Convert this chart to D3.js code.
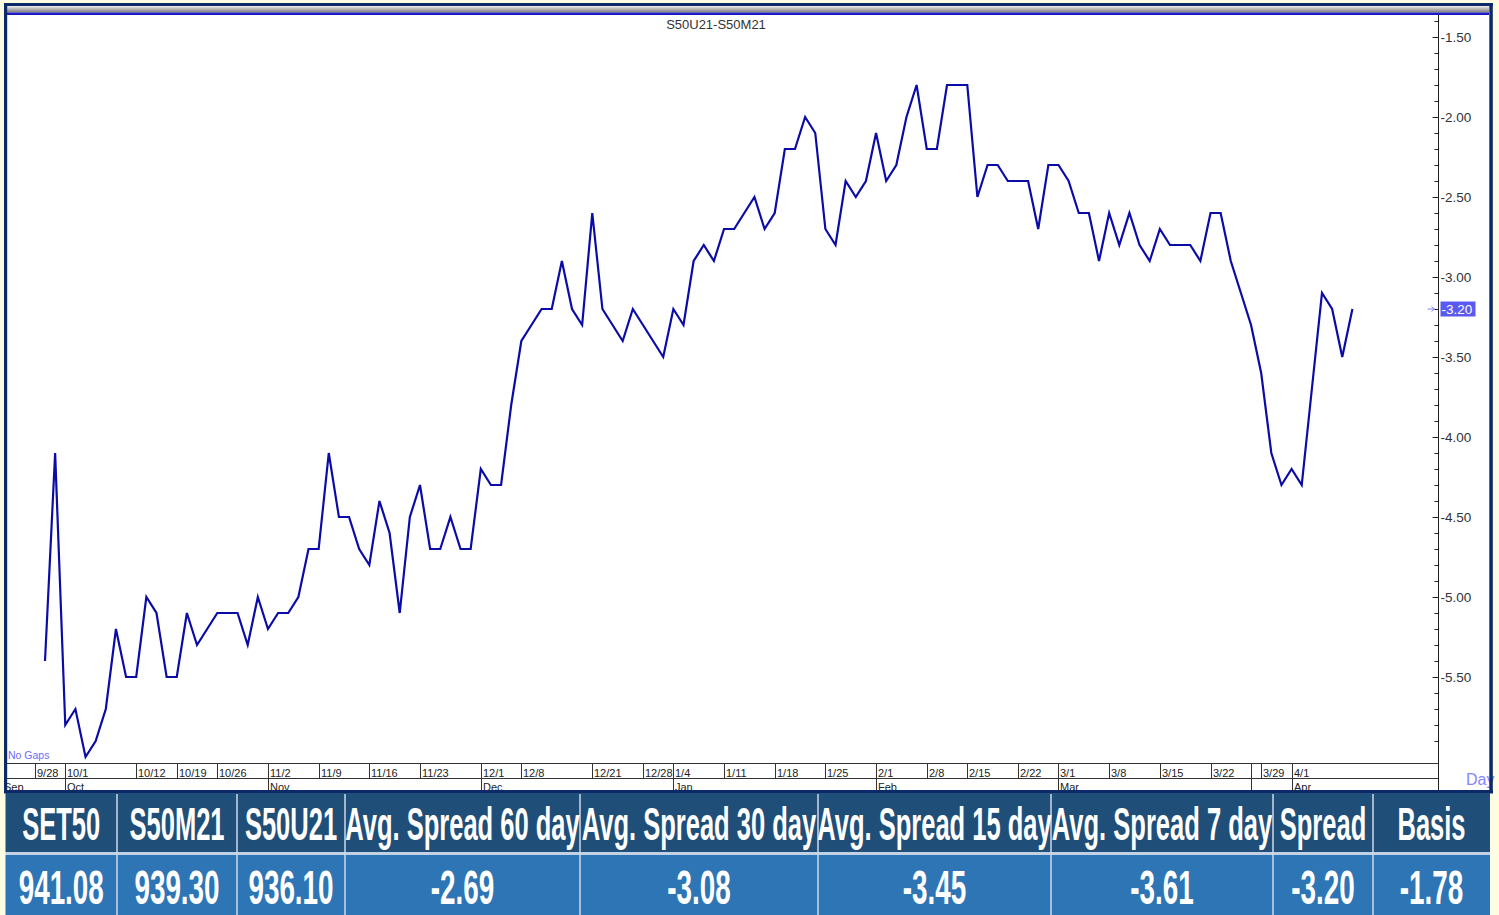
<!DOCTYPE html>
<html><head><meta charset="utf-8">
<script src="https://cdn.jsdelivr.net/npm/d3@7"></script>
<style>html,body{margin:0;padding:0;background:#fffce4;} svg{display:block;}</style>
</head><body>
<svg id="c" width="1499" height="915"></svg>
<script>
// ---- data ----
const title = "S50U21-S50M21";
const spread = [
 -5.40,-4.10,-5.80,-5.70,-6.00,-5.90,-5.70,-5.20,-5.50,-5.50,
 -5.00,-5.10,-5.50,-5.50,-5.10,-5.30,-5.20,-5.10,-5.10,-5.10,
 -5.30,-5.00,-5.20,-5.10,-5.10,-5.00,-4.70,-4.70,-4.10,-4.50,
 -4.50,-4.70,-4.80,-4.40,-4.60,-5.10,-4.50,-4.30,-4.70,-4.70,
 -4.50,-4.70,-4.70,-4.20,-4.30,-4.30,-3.80,-3.40,-3.30,-3.20,
 -3.20,-2.90,-3.20,-3.30,-2.60,-3.20,-3.30,-3.40,-3.20,-3.30,
 -3.40,-3.50,-3.20,-3.30,-2.90,-2.80,-2.90,-2.70,-2.70,-2.60,
 -2.50,-2.70,-2.60,-2.20,-2.20,-2.00,-2.10,-2.70,-2.80,-2.40,
 -2.50,-2.40,-2.10,-2.40,-2.30,-2.00,-1.80,-2.20,-2.20,-1.80,
 -1.80,-1.80,-2.50,-2.30,-2.30,-2.40,-2.40,-2.40,-2.70,-2.30,
 -2.30,-2.40,-2.60,-2.60,-2.90,-2.60,-2.80,-2.60,-2.80,-2.90,
 -2.70,-2.80,-2.80,-2.80,-2.90,-2.60,-2.60,-2.90,-3.10,-3.30,
 -3.60,-4.10,-4.30,-4.20,-4.30,-3.70,-3.10,-3.20,-3.50,-3.20
];
const dayTickLabels = ["9/28","10/1","10/12","10/19","10/26","11/2","11/9","11/16","11/23","12/1","12/8","12/21","12/28","1/4","1/11","1/18","1/25","2/1","2/8","2/15","2/22","3/1","3/8","3/15","3/22","3/29","4/1"];
const dayTickIndex  = [-1,2,9,13,17,22,27,32,37,43,47,54,59,62,67,72,77,82,87,91,96,100,105,110,115,120,123];
const monthLabels = ["Oct","Nov","Dec","Jan","Feb","Mar","","Apr"];
const monthIndex  = [2,22,43,62,82,100,119,123];
const firstMonthLabel = "Sep";
const yTickValues = [-1.5,-2.0,-2.5,-3.0,-3.5,-4.0,-4.5,-5.0,-5.5];
const lastValue = -3.20;
const tableHeaders = ["SET50","S50M21","S50U21","Avg. Spread 60 day","Avg. Spread 30 day","Avg. Spread 15 day","Avg. Spread 7 day","Spread","Basis"];
const tableValues  = ["941.08","939.30","936.10","-2.69","-3.08","-3.45","-3.61","-3.20","-1.78"];

// ---- layout ----
const svg = d3.select("#c");
const W = 1499, H = 915;
const navy = "#0d2a68";
const plotL = 7, plotR = 1438.5, plotT = 15, plotB = 763.5, frameB = 790;
const colEdges = [5.5,117,237,345,580,818,1051,1273,1373,1490];

const x = d3.scaleLinear().domain([0, spread.length - 1]).range([45, 1352.4]);
const y = d3.scaleLinear().domain([-1.5, -5.5]).range([37, 677]);

svg.append("rect").attr("width", W).attr("height", H).attr("fill", "#fffce4");
svg.append("rect").attr("x", 7).attr("y", 12).attr("width", 1482).attr("height", frameB - 12).attr("fill", "#fff");

const defs = svg.append("defs");
defs.append("clipPath").attr("id", "plotclip").append("rect")
  .attr("x", plotL).attr("y", plotT).attr("width", plotR - plotL).attr("height", plotB - plotT);
const g1 = defs.append("linearGradient").attr("id", "band").attr("x1", 0).attr("y1", 0).attr("x2", 0).attr("y2", 1);
g1.append("stop").attr("offset", "0").attr("stop-color", "#f0f0f0");
g1.append("stop").attr("offset", "0.45").attr("stop-color", "#b8b8b8");
g1.append("stop").attr("offset", "1").attr("stop-color", "#7a7a7a");

const lblFont = "Liberation Sans, Arial, sans-serif";

// title
svg.append("text").attr("x", 716).attr("y", 28.5).attr("text-anchor", "middle")
  .attr("font-family", lblFont).attr("font-size", 13).attr("fill", "#333")
  .text(title);

// line
const line = d3.line().x((d, i) => x(i)).y(d => y(d));
svg.append("g").attr("clip-path", "url(#plotclip)")
  .append("path").datum(spread).attr("d", line)
  .attr("fill", "none").attr("stroke", "#0b0ba8").attr("stroke-width", 2.2).attr("stroke-linejoin", "miter");

// No Gaps
svg.append("text").attr("x", 8).attr("y", 759).attr("font-family", lblFont)
  .attr("font-size", 10.5).attr("fill", "#6c6cff").text("No  Gaps");

// x axis rows
const ax = svg.append("g").attr("stroke", "#333").attr("stroke-width", 1);
ax.append("line").attr("x1", plotL).attr("x2", plotR).attr("y1", plotB).attr("y2", plotB);
ax.append("line").attr("x1", plotL).attr("x2", plotR).attr("y1", 778.5).attr("y2", 778.5);
dayTickIndex.forEach(i => {
  const px = Math.round(x(i)) + 0.5;
  ax.append("line").attr("x1", px).attr("x2", px).attr("y1", plotB).attr("y2", 778.5);
});
monthIndex.forEach(i => {
  const px = Math.round(x(i)) + 0.5;
  ax.append("line").attr("x1", px).attr("x2", px).attr("y1", plotB).attr("y2", frameB);
});
svg.append("g").selectAll("text").data(dayTickLabels).join("text")
  .attr("x", (d, k) => Math.round(x(dayTickIndex[k])) + 2)
  .attr("y", 776.5).attr("font-family", lblFont).attr("font-size", 11).attr("fill", "#222")
  .text(d => d);
svg.append("g").selectAll("text").data(monthLabels).join("text")
  .attr("x", (d, k) => Math.round(x(monthIndex[k])) + 2)
  .attr("y", 790.5).attr("font-family", lblFont).attr("font-size", 11).attr("fill", "#222")
  .text(d => d);
svg.append("text").attr("x", 4).attr("y", 790.5).attr("font-family", lblFont).attr("font-size", 11)
  .attr("fill", "#222").text(firstMonthLabel);

// y axis
svg.append("line").attr("x1", plotR).attr("x2", plotR).attr("y1", plotT).attr("y2", frameB)
  .attr("stroke", "#222").attr("stroke-width", 1);
const minor = d3.range(-14, -60, -1).map(v => v / 10);
const minorAxis = d3.axisRight(y).tickValues(minor).tickSizeInner(-4).tickSizeOuter(0).tickFormat("");
svg.append("g").attr("transform", `translate(${plotR},0)`).call(minorAxis)
  .call(g => g.select(".domain").remove())
  .call(g => g.selectAll("line").attr("stroke", "#222"));
const majorAxis = d3.axisRight(y).tickValues(yTickValues).tickSizeInner(-6).tickSizeOuter(0).tickPadding(2)
  .tickFormat(d => d.toFixed(2));
svg.append("g").attr("transform", `translate(${plotR},0)`).call(majorAxis)
  .call(g => g.select(".domain").remove())
  .call(g => g.selectAll("line").attr("stroke", "#222"))
  .call(g => g.selectAll("text").attr("font-family", lblFont).attr("font-size", 13.5).attr("fill", "#333"));

// last value marker
const ly = y(lastValue);
svg.append("rect").attr("x", plotR + 2).attr("y", ly - 7.5).attr("width", 35).attr("height", 15).attr("fill", "#5a5af2");
svg.append("text").attr("x", plotR + 3).attr("y", ly + 5).attr("font-family", lblFont).attr("font-size", 13.5)
  .attr("fill", "#fff").text(lastValue.toFixed(2));
svg.append("path").attr("d", `M${plotR - 11},${ly}H${plotR - 4}M${plotR - 7},${ly - 2.5}L${plotR - 4},${ly}L${plotR - 7},${ly + 2.5}`)
  .attr("fill", "none").attr("stroke", "#8080ff").attr("stroke-width", 1);

// Day
svg.append("text").attr("x", 1466).attr("y", 784.5).attr("font-family", lblFont).attr("font-size", 16)
  .attr("fill", "#8585ff").text("Day");

// frame
svg.append("rect").attr("x", 7).attr("y", 6).attr("width", 1482).attr("height", 6.5).attr("fill", "url(#band)");
svg.append("rect").attr("x", 7).attr("y", 12.5).attr("width", 1482).attr("height", 2.5).attr("fill", "#1a1ac4");
svg.append("rect").attr("x", 4).attr("y", 3).attr("width", 1489).attr("height", 3).attr("fill", navy);
svg.append("rect").attr("x", 4).attr("y", 3).attr("width", 3.2).attr("height", frameB).attr("fill", navy);
svg.append("rect").attr("x", 1489.3).attr("y", 3).attr("width", 3.5).attr("height", frameB).attr("fill", navy);
svg.append("rect").attr("x", 4).attr("y", frameB).attr("width", 1489).attr("height", 3.5).attr("fill", navy);

// table
const tb = svg.append("g");
tb.append("rect").attr("x", colEdges[0]).attr("y", 793).attr("width", colEdges[9] - colEdges[0]).attr("height", 59).attr("fill", "#1f4e79");
tb.append("rect").attr("x", colEdges[0]).attr("y", 852).attr("width", colEdges[9] - colEdges[0]).attr("height", 3).attr("fill", "#c3d1e4");
tb.append("rect").attr("x", colEdges[0]).attr("y", 855).attr("width", colEdges[9] - colEdges[0]).attr("height", 60).attr("fill", "#2e75b6");
colEdges.slice(1, -1).forEach(e => {
  tb.append("line").attr("x1", e).attr("x2", e).attr("y1", 794).attr("y2", 915).attr("stroke", "#cfd9e8").attr("stroke-width", 1.5);
});
tb.selectAll("text.h").data(tableHeaders).join("text").attr("class", "h")
  .attr("transform", (d, i) => `translate(${(colEdges[i] + colEdges[i + 1]) / 2},840) scale(0.555,1)`)
  .attr("text-anchor", "middle").attr("font-family", lblFont).attr("font-weight", "bold")
  .attr("font-size", 46).attr("fill", "#fff").text(d => d);
tb.selectAll("text.v").data(tableValues).join("text").attr("class", "v")
  .attr("transform", (d, i) => `translate(${(colEdges[i] + colEdges[i + 1]) / 2},904) scale(0.58,1)`)
  .attr("text-anchor", "middle").attr("font-family", lblFont).attr("font-weight", "bold")
  .attr("font-size", 48).attr("fill", "#fff").text(d => d);
</script>
</body></html>
